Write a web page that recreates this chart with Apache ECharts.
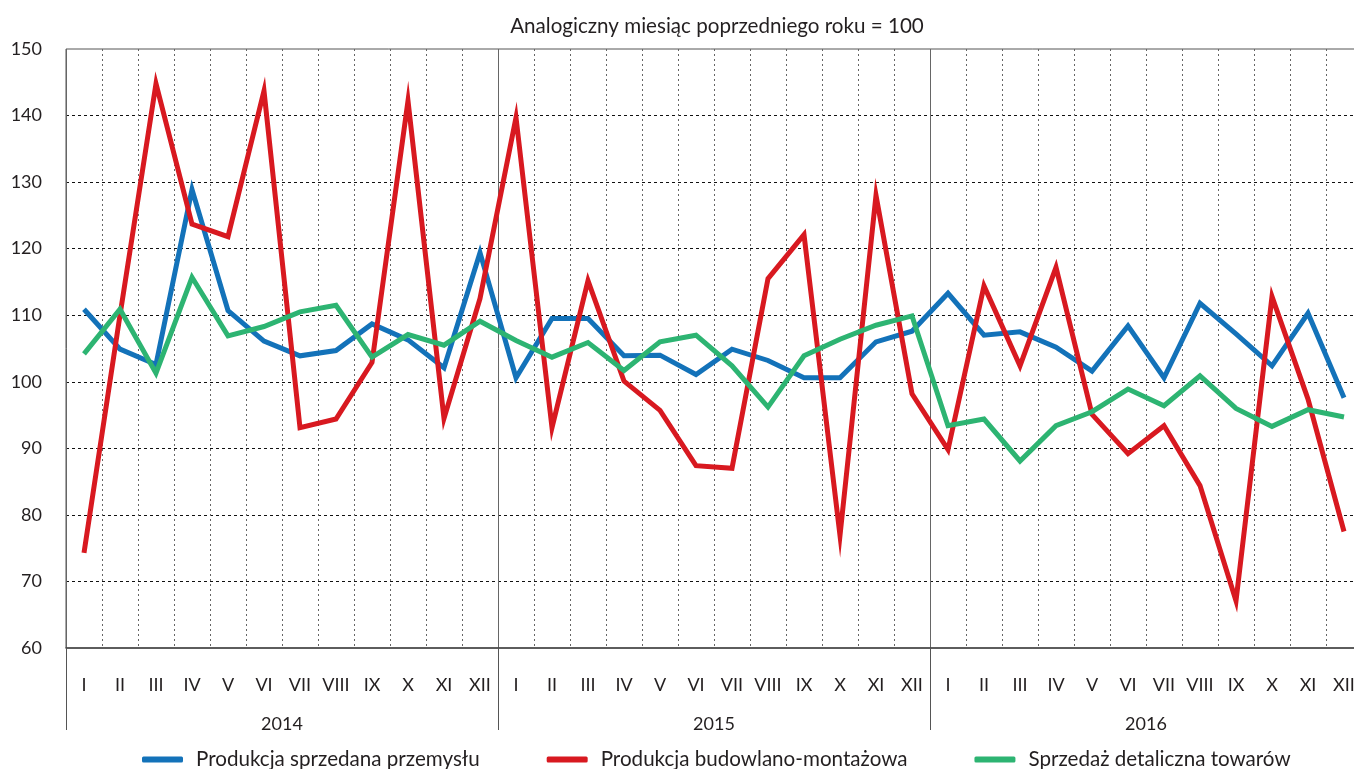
<!DOCTYPE html>
<html>
<head>
<meta charset="utf-8">
<title>Analogiczny miesiąc poprzedniego roku = 100</title>
<script src="https://cdn.jsdelivr.net/npm/echarts@6/dist/echarts.min.js"></script>
<style type="text/css">
html, body { margin: 0; padding: 0; background: #fff; }
#chart { width: 1354px; height: 769px; }
</style>
</head>
<body>
<div id="chart"></div>
<script type="text/javascript">
// miesiące (oś dolna) i lata (druga oś)
var months = ['I','II','III','IV','V','VI','VII','VIII','IX','X','XI','XII'];
var years = ['2014', '2015', '2016'];
var yTicks = [60, 150, 10];

var przemysl = [
    110.9, 104.9, 102.6, 128.9, 110.7, 106.1, 103.9, 104.7, 108.7, 106.3, 102.1, 119.4,
    100.6, 109.5, 109.5, 103.9, 104.0, 101.1, 104.9, 103.2, 100.6, 100.6, 106.0, 107.6,
    113.3, 107.0, 107.5, 105.2, 101.6, 108.4, 100.6, 111.8, 107.2, 102.4, 110.3, 97.6
];
var budownictwo = [
    74.3, 110.0, 144.8, 123.7, 121.8, 143.7, 93.1, 94.4, 102.9, 142.2, 94.5, 112.5,
    139.7, 93.1, 115.2, 100.1, 95.7, 87.4, 87.0, 115.5, 122.1, 76.9, 128.0, 98.2,
    89.8, 114.4, 102.4, 117.2, 95.1, 89.2, 93.4, 84.4, 67.1, 112.8, 97.4, 77.5
];
var detal = [
    104.2, 110.9, 101.3, 115.7, 106.9, 108.3, 110.5, 111.5, 103.7, 107.1, 105.5, 109.1,
    106.2, 103.7, 105.9, 101.7, 106.0, 107.0, 102.4, 96.2, 103.9, 106.4, 108.5, 109.9,
    93.4, 94.4, 88.1, 93.4, 95.5, 98.9, 96.4, 100.9, 96.0, 93.3, 95.8, 94.7
];

var seriesNames = ['Produkcja sprzedana przemysłu', 'Produkcja budowlano-montażowa', 'Sprzedaż detaliczna towarów'];
var colors = ['#1372b9', '#d81920', '#2db472'];

var allMonths = [];
years.forEach(function () { allMonths = allMonths.concat(months); });

var font = 'Lato, "Noto Sans", sans-serif';
var textColor = '#231f20';

var lineSeries = function (name, data, color) {
    return {
        name: name,
        type: 'line',
        data: data,
        xAxisIndex: 0,
        symbol: 'none',
        lineStyle: { width: 5, color: color, join: 'miter' },
        itemStyle: { color: color },
        z: 3
    };
};

var option = {
    animation: false,
    textStyle: { fontFamily: font },
    title: {
        text: 'Analogiczny miesiąc poprzedniego roku = 100',
        left: 712,
        top: 11,
        textAlign: 'center',
        textStyle: { fontFamily: font, fontSize: 20.6, fontWeight: 'normal', color: textColor }
    },
    legend: {
        left: 137,
        top: 744,
        itemGap: 67,
        itemWidth: 41,
        itemHeight: 6,
        icon: 'roundRect',
        textStyle: { fontFamily: font, fontSize: 20.6, color: textColor, padding: [0, 0, 0, 8] },
        data: seriesNames
    },
    // prawa krawędź wykresu wychodzi poza obraz (jak w oryginale)
    grid: {
        left: 66,
        right: -8,
        top: 49,
        bottom: 121,
        outerBoundsMode: 'none',
        show: true,
        borderColor: '#555',
        borderWidth: 1,
        backgroundColor: 'transparent'
    },
    xAxis: [
        {
            type: 'category',
            data: allMonths,
            position: 'bottom',
            boundaryGap: true,
            axisLine: { show: true, lineStyle: { color: '#444', width: 1.5 } },
            axisTick: { show: false },
            axisLabel: { interval: 0, fontSize: 18, margin: 28, color: textColor, fontFamily: font },
            splitLine: { show: true, interval: 0, lineStyle: { color: '#666', type: [2, 3], width: 1 } }
        },
        {
            type: 'category',
            data: years,
            position: 'bottom',
            boundaryGap: true,
            axisLine: { show: false },
            axisTick: { show: true, interval: 0, length: 82, lineStyle: { color: '#555', width: 1 } },
            axisLabel: { interval: 0, fontSize: 18, margin: 67, color: textColor, fontFamily: font },
            splitLine: { show: true, interval: 0, lineStyle: { color: '#666', type: 'solid', width: 1 } }
        }
    ],
    yAxis: {
        type: 'value',
        min: yTicks[0],
        max: yTicks[1],
        interval: yTicks[2],
        axisLine: { show: false },
        axisTick: { show: false },
        axisLabel: { fontSize: 18, margin: 24, color: textColor, fontFamily: font },
        splitLine: { show: true, showMinLine: false, showMaxLine: false, lineStyle: { color: '#111', type: [3, 3], width: 1 } }
    },
    series: [
        lineSeries(seriesNames[0], przemysl, colors[0]),
        lineSeries(seriesNames[1], budownictwo, colors[1]),
        lineSeries(seriesNames[2], detal, colors[2])
    ]
};

var myChart = echarts.init(document.getElementById('chart'), null, { renderer: 'canvas' });
myChart.setOption(option);
</script>
</body>
</html>
